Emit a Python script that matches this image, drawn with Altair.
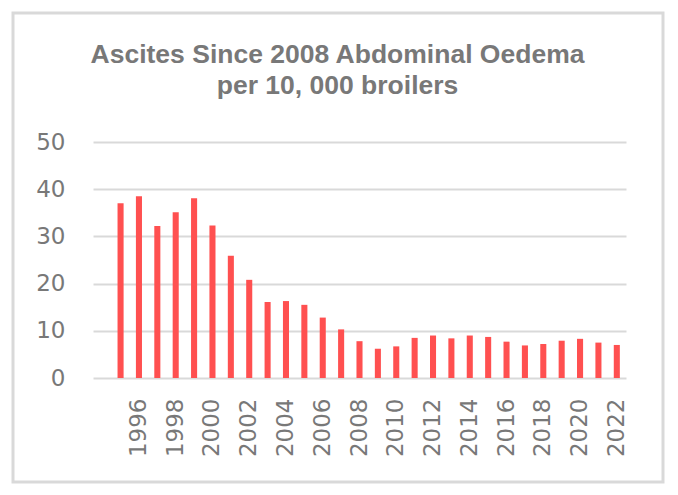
import altair as alt
import pandas as pd

years = list(range(1995, 2023))
values = [37.0, 38.5, 32.2, 35.1, 38.1, 32.3, 25.9, 20.8, 16.1, 16.3, 15.5, 12.8, 10.3,
          7.8, 6.2, 6.7, 8.5, 9.0, 8.4, 9.0, 8.7, 7.7, 6.9, 7.2, 7.9, 8.3, 7.5, 7.0]
x_domain = list(range(1994, 2023))
x_ticks = list(range(1996, 2023, 2))
y_ticks = [0, 10, 20, 30, 40, 50]

df = pd.DataFrame({"year": years, "value": values})

gray = "#787878"
tfont = "Liberation Sans"
afont = "DejaVu Sans"

bars = alt.Chart(df).mark_bar(color="#ff5050").encode(
    x=alt.X("year:O",
            scale=alt.Scale(domain=x_domain, paddingInner=0.67, paddingOuter=0.335),
            axis=alt.Axis(values=x_ticks, title=None, labelAngle=270, labelAlign="right",
                          labelBaseline="middle", labelPadding=20, ticks=False,
                          domain=False, labelFont=afont, labelFontSize=23,
                          labelColor=gray, labelOverlap=False)),
    y=alt.Y("value:Q",
            scale=alt.Scale(domain=[0, 50], nice=False),
            axis=alt.Axis(values=y_ticks, title=None, ticks=False, domain=False,
                          labelPadding=28, labelFont=afont, labelFontSize=23,
                          labelColor=gray, gridColor="#d9d9d9", gridWidth=2)),
)

border = alt.Chart(pd.DataFrame({"a": [0]})).mark_rect(
    fill=None, stroke="#d9d9d9", strokeWidth=3
).encode(
    x=alt.value(-80), x2=alt.value(570), y=alt.value(-129), y2=alt.value(340)
)

chart = alt.layer(border, bars).properties(
    width=533,
    height=236,
    title=alt.TitleParams(
        text=["Ascites Since 2008 Abdominal Oedema", "per 10, 000 broilers"],
        font=tfont, fontSize=26.5, fontWeight="bold", color=gray,
        anchor="middle", frame="group", dx=-22, offset=-88, lineHeight=31,
    ),
    autosize=alt.AutoSizeParams(type="none"),
    padding={"left": 85, "top": 134, "right": 44, "bottom": 109},
).configure_view(stroke=None).configure_axis(grid=True).configure_axisX(grid=False)

chart.save("out.html", embed_options={"renderer": "svg", "actions": False})
